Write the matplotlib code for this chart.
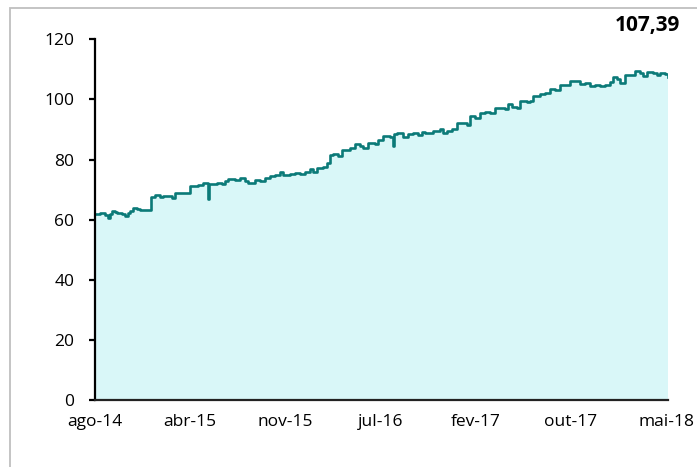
import matplotlib
matplotlib.use("Agg")
import matplotlib.pyplot as plt
from matplotlib.patches import Rectangle

plt.rcParams['font.family'] = ['Open Sans', 'DejaVu Sans']

# trading-day index and index value
dias = [0, 8, 17, 22, 25, 28, 33, 37, 45, 50, 55, 58, 63, 70, 75, 94, 100, 109, 114, 122,
        129, 134, 142, 150, 159, 172, 180, 187, 189, 190, 204, 212, 217, 222, 234, 242, 251,
        256, 267, 276, 284, 292, 301, 309, 314, 326, 334, 342, 351, 359, 364, 371, 381, 387,
        392, 397, 406, 412, 426, 434, 443, 448, 456, 468, 473, 481, 493, 498, 499, 504, 514,
        523, 531, 539, 546, 551, 564, 576, 581, 588, 596, 605, 615, 621, 626, 635, 643, 651,
        660, 668, 685, 690, 696, 705, 710, 721, 726, 731, 743, 751, 760, 768, 777, 785, 793,
        802, 810, 818, 827, 835, 843, 852, 860, 865, 872, 877, 885, 893, 902, 910, 915, 922,
        932, 938, 943, 952, 957]
valores = [61.9, 62.1, 61.5, 60.4, 61.8, 63.0, 62.5, 62.1, 61.9, 61.2, 62.2, 63.0, 63.8, 63.4,
           63.1, 67.6, 68.2, 67.4, 68.0, 67.9, 67.1, 68.7, 69.0, 68.7, 71.2, 71.4, 72.3, 72.1,
           66.8, 72.0, 72.3, 71.8, 72.9, 73.5, 73.2, 73.9, 73.0, 72.3, 73.2, 73.0, 73.7, 74.5,
           74.9, 75.8, 74.9, 75.2, 75.6, 75.2, 75.9, 76.7, 76.0, 77.3, 77.6, 78.7, 81.5, 82.0,
           81.2, 83.2, 83.7, 85.2, 84.5, 83.7, 85.6, 85.2, 86.5, 87.8, 87.6, 84.5, 88.5, 88.7,
           87.6, 88.5, 88.7, 88.2, 89.2, 88.9, 89.5, 90.0, 88.9, 89.4, 90.0, 92.0, 92.0, 91.5,
           94.5, 93.7, 95.6, 95.9, 95.4, 97.0, 96.7, 98.5, 97.6, 97.0, 99.6, 99.2, 99.5, 101.0,
           101.7, 102.3, 103.3, 103.1, 104.8, 104.8, 106.2, 106.2, 105.1, 105.3, 104.5, 104.8,
           104.5, 104.8, 105.9, 107.5, 106.7, 105.6, 108.1, 108.1, 109.5, 108.9, 107.8, 109.2,
           108.9, 108.1, 108.7, 108.4, 107.39]

tick_pos = [0, 159, 318, 477, 636, 795, 954]
tick_labels = ['ago-14', 'abr-15', 'nov-15', 'jul-16', 'fev-17', 'out-17', 'mai-18']
y_ticks = [0, 20, 40, 60, 80, 100, 120]
ultimo_valor = '107,39'

line_color = '#0b7a78'
fill_color = '#d9f7f8'

fig = plt.figure(figsize=(6.97, 4.67), dpi=100)
ax = fig.add_axes([95 / 697, 1 - 400 / 467, (668 - 95) / 697, (400 - 39.3) / 467])

ax.fill_between(dias, valores, 0, step='post', color=fill_color, linewidth=0)
ax.plot(dias, valores, drawstyle='steps-post', color=line_color, linewidth=1.9)

ax.set_xlim(dias[0], dias[-1])
ax.set_ylim(0, 120)
ax.set_yticks(y_ticks)
ax.set_xticks(tick_pos)
ax.set_xticklabels(tick_labels)

for s in ['top', 'right']:
    ax.spines[s].set_visible(False)
ax.spines['left'].set_linewidth(1.6)
ax.spines['left'].set_color('black')
ax.spines['bottom'].set_linewidth(1.6)
ax.spines['bottom'].set_color('#222222')

ax.tick_params(axis='y', direction='out', length=4, width=1.6, pad=11, labelsize=12.5, colors='black')
ax.tick_params(axis='x', length=0, pad=10, labelsize=12.5, colors='black')

fig.text(680 / 697, 1 - 26 / 467, ultimo_valor, ha='right', va='center',
         fontsize=15, fontweight='bold', color='black')

# outer frame (partially visible)
fig.patches.append(Rectangle((10 / 697, -0.1), 1.2, (1 - 8 / 467) + 0.1,
                             transform=fig.transFigure, fill=False,
                             edgecolor='#bfbfbf', linewidth=1.3, zorder=0))

fig.savefig('out.png', dpi=100)
